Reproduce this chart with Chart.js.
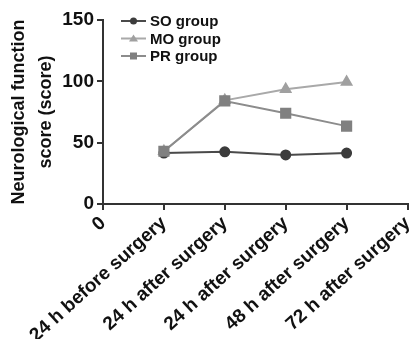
<!DOCTYPE html>
<html lang="en">
<head>
  <meta charset="UTF-8">
  <title>Neurological function score</title>
  <style>
    html, body { margin: 0; padding: 0; background: #fff; overflow: hidden; }
    #wrap { width: 411px; height: 339px; overflow: hidden; }
  </style>
</head>
<body>
  <div id="wrap"><canvas id="scoreChart" width="416" height="339"></canvas></div>

  <script src="https://cdn.jsdelivr.net/npm/chart.js"></script>
  <script>
    // x tick labels (index = position on the x axis)
    const xTickLabels = ['0', '24 h before surgery', '24 h after surgery', '24 h after surgery', '48 h after surgery', '72 h after surgery'];
    const timePoints = [1, 2, 3, 4];
    const yTicks = [0, 50, 100, 150];

    const soScores = [41.5, 42.5, 40, 41.5];
    const moScores = [43, 84.5, 93.5, 99.5];
    const prScores = [43, 84, 74, 63.5];

    const FONT = 'Arial, "Liberation Sans", Helvetica, sans-serif';

    function toPoints(values) {
      return timePoints.map((t, i) => ({ x: t, y: values[i] }));
    }

    // legend: short line with the marker in the middle, like the original
    const lineLegend = {
      id: 'lineLegend',
      afterDraw(chart) {
        const ctx = chart.ctx;
        const area = chart.chartArea;
        const x0 = area.left + 18;
        const x1 = area.left + 43;
        const mid = (x0 + x1) / 2;
        ctx.save();
        chart.data.datasets.forEach((ds, i) => {
          const y = area.top + 1 + i * 17.5;
          ctx.strokeStyle = ds.borderColor;
          ctx.lineWidth = 2;
          ctx.beginPath();
          ctx.moveTo(x0, y);
          ctx.lineTo(x1, y);
          ctx.stroke();
          ctx.fillStyle = ds.pointBackgroundColor;
          ctx.beginPath();
          if (ds.pointStyle === 'circle') {
            ctx.arc(mid, y, 3.5, 0, Math.PI * 2);
          } else if (ds.pointStyle === 'triangle') {
            ctx.moveTo(mid, y - 4);
            ctx.lineTo(mid + 4.5, y + 3);
            ctx.lineTo(mid - 4.5, y + 3);
            ctx.closePath();
          } else {
            ctx.rect(mid - 3.5, y - 3.5, 7, 7);
          }
          ctx.fill();
          ctx.fillStyle = '#111';
          ctx.font = 'bold 15px ' + FONT;
          ctx.textAlign = 'left';
          ctx.textBaseline = 'middle';
          ctx.fillText(ds.label, x1 + 4, y + 1);
        });
        ctx.restore();
      }
    };

    const ctx = document.getElementById('scoreChart').getContext('2d');
    new Chart(ctx, {
      type: 'line',
      data: {
        datasets: [
          {
            label: 'SO group',
            data: toPoints(soScores),
            borderColor: '#4a4a4a',
            backgroundColor: '#3c3c3c',
            pointBackgroundColor: '#3c3c3c',
            pointBorderColor: '#3c3c3c',
            pointStyle: 'circle',
            pointRadius: 4.5,
            borderWidth: 2,
            order: 3
          },
          {
            label: 'MO group',
            data: toPoints(moScores),
            borderColor: '#a9a9a9',
            backgroundColor: '#a0a0a0',
            pointBackgroundColor: '#a0a0a0',
            pointBorderColor: '#a0a0a0',
            pointStyle: 'triangle',
            pointRadius: 5.5,
            borderWidth: 2,
            order: 2
          },
          {
            label: 'PR group',
            data: toPoints(prScores),
            borderColor: '#8c8c8c',
            backgroundColor: '#808080',
            pointBackgroundColor: '#808080',
            pointBorderColor: '#808080',
            pointStyle: 'rect',
            pointRadius: 6.5,
            borderWidth: 2,
            order: 1
          }
        ]
      },
      options: {
        responsive: false,
        animation: false,
        events: [],
        layout: { padding: { top: 20, right: -6, left: 0, bottom: 0 } },
        plugins: {
          legend: { display: false },
          tooltip: { enabled: false }
        },
        scales: {
          x: {
            type: 'linear',
            min: 0,
            max: xTickLabels.length - 1,
            afterFit(scale) {
              scale.height = 135;
              scale.paddingRight = 0;
            },
            afterBuildTicks(scale) {
              scale.ticks = xTickLabels.map((_, i) => ({ value: i }));
            },
            ticks: {
              autoSkip: false,
              minRotation: 42,
              maxRotation: 42,
              padding: 2,
              color: '#111',
              font: { family: FONT, size: 19, weight: 'bold' },
              callback: (v) => xTickLabels[v]
            },
            grid: { display: true, drawOnChartArea: false, drawTicks: true, tickLength: 6, color: '#333', lineWidth: 2 },
            border: { display: true, color: '#333', width: 2 }
          },
          y: {
            min: 0,
            max: 150,
            afterFit(scale) { scale.width = 103; },
            afterBuildTicks(scale) {
              scale.ticks = yTicks.map(v => ({ value: v }));
            },
            ticks: {
              padding: 3,
              color: '#111',
              font: { family: FONT, size: 19, weight: 'bold' }
            },
            grid: { display: true, drawOnChartArea: false, drawTicks: true, tickLength: 6, color: '#333', lineWidth: 2 },
            border: { display: true, color: '#333', width: 2 },
            title: {
              display: true,
              text: ['Neurological function', 'score (score)'],
              color: '#111',
              padding: { top: 6, bottom: 0 },
              font: { family: FONT, size: 18, weight: 'bold', lineHeight: 1.5 }
            }
          }
        }
      },
      plugins: [lineLegend]
    });
  </script>
</body>
</html>
